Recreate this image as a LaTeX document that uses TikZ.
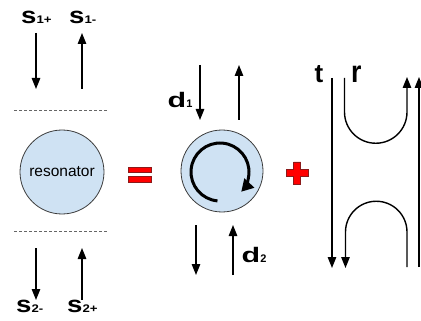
\documentclass[tikz,border=0pt]{standalone}
\usepackage{fontspec}
\setmainfont{Liberation Sans}
\usetikzlibrary{arrows.meta,calc}
\definecolor{disc}{HTML}{CFE2F3}
\definecolor{rim}{HTML}{3C3C3C}
\definecolor{signred}{HTML}{FF0000}
\definecolor{signrim}{HTML}{8B1A1A}
% a port amplitude: large bold letter followed by a small index on the same baseline
\newcommand\portlabel[2]{\scalebox{1.2}[1]{{\fontsize{23}{23}\selectfont #1}{\fontsize{11}{11}\selectfont #2}}}
\newcommand\dlabel[2]{\scalebox{1.45}[1]{\fontsize{21}{21}\selectfont #1}{\fontsize{11}{11}\selectfont #2}}

\begin{document}
\begin{tikzpicture}[x=1pt,y=-1pt,
  arr/.style={line width=1.4pt,-{Triangle[length=11pt,width=8.5pt]}},
  cut/.style={draw=gray!80!black,line width=0.9pt,dash pattern=on 3pt off 2pt},
  port/.style={anchor=base west,inner sep=0pt,font=\bfseries},
  disk/.style={circle,draw=rim,line width=0.8pt,fill=disc,inner sep=0pt},
  sign/.style={fill=signred,draw=signrim,line width=0.6pt}]

\useasboundingbox (0,0) rectangle (421,321);

% ---------- left: the resonator between its two reference planes ----------
\node[port] (s1p) at (21,24) {\portlabel{s}{1+}};
\node[port] (s1m) at (69,24) {\portlabel{s}{1-}};
\node[port] (s2m) at (16,312) {\portlabel{s}{2-}};
\node[port] (s2p) at (67,312) {\portlabel{s}{2+}};

\coordinate (inA) at (36,33);  \coordinate (inB) at (36,89);
\coordinate (outA) at (82,89); \coordinate (outB) at (82,33);
\draw[arr] (inA) -- (inB);
\draw[arr] (outA) -- (outB);

\coordinate (planeTl) at (14,110); \coordinate (planeTr) at (108,110);
\coordinate (planeBl) at (14,231); \coordinate (planeBr) at (108,231);
\draw[cut] (planeTl) -- (planeTr);
\draw[cut] (planeBl) -- (planeBr);

\node[disk,minimum size=84pt,font=\fontsize{15.5}{16}\selectfont] (res) at (62,172) {resonator};

\coordinate (lowA) at (36,248);  \coordinate (lowB) at (36,300);
\coordinate (lowC) at (82,300);  \coordinate (lowD) at (82,248);
\draw[arr] (lowA) -- (lowB);
\draw[arr] (lowC) -- (lowD);

% ---------- equals sign ----------
\draw[sign] (128,167) rectangle (151,172);
\draw[sign] (128,176.5) rectangle (151,182);

% ---------- middle: circulating mode with its two channels ----------
\node[disk,minimum size=82pt] (mode) at (222,171) {};
\coordinate (mc) at (220,172);
\draw[line width=3pt,-{Triangle[length=12pt,width=13pt]}]
  ($(mc)+(95:29)$) arc[start angle=95,end angle=403,radius=29];

\coordinate (d1a) at (200,65);  \coordinate (d1b) at (200,120);
\coordinate (d1c) at (239,120); \coordinate (d1d) at (239,65);
\draw[arr] (d1a) -- (d1b);
\draw[arr] (d1c) -- (d1d);
\node[port] (d1) at (167.5,107) {\dlabel{d}{1}};

\coordinate (d2a) at (196,225); \coordinate (d2b) at (196,275);
\coordinate (d2c) at (233,275); \coordinate (d2d) at (233,225);
\draw[arr] (d2a) -- (d2b);
\draw[arr] (d2c) -- (d2d);
\node[port] (d2) at (241.5,262) {\dlabel{d}{2}};

% ---------- plus sign ----------
\draw[sign] (293.5,162) -- (300.5,162) -- (300.5,169.5) -- (308,169.5)
  -- (308,176.5) -- (300.5,176.5) -- (300.5,184) -- (293.5,184)
  -- (293.5,176.5) -- (286,176.5) -- (286,169.5) -- (293.5,169.5) -- cycle;

% ---------- right: direct transmission and reflection paths ----------
\node[port,font=\bfseries\fontsize{26}{26}\selectfont] (t) at (314.5,83) {t};
\node[port,font=\bfseries\fontsize{28}{28}\selectfont] (r) at (351,83) {\scalebox{0.95}[1.1]{r}};

\coordinate (tTop) at (332,78);  \coordinate (tEnd) at (332,268);
\draw[arr] (tTop) -- (tEnd);

\coordinate (rTop) at (344.5,78); \coordinate (rEnd) at (407,77);
\draw[arr] (rTop) -- (344.5,112) arc[start angle=180,end angle=0,radius=31.25] -- (rEnd);

\coordinate (qStart) at (407,267); \coordinate (qEnd) at (345.5,268);
\draw[arr] (qStart) -- (407,232) arc[start angle=0,end angle=-180,radius=30.75] -- (qEnd);

\coordinate (bBot) at (419,267); \coordinate (bTop) at (419,77);
\draw[arr] (bBot) -- (bTop);
\end{tikzpicture}
\end{document}
